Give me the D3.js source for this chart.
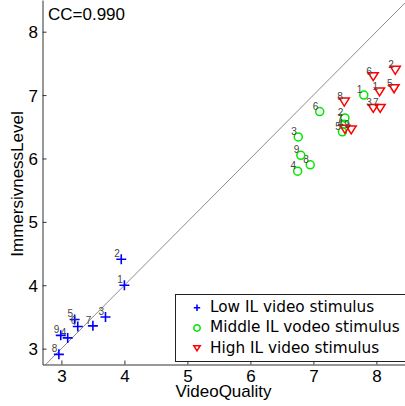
<!DOCTYPE html>
<html>
<head>
<meta charset="utf-8">
<script src="https://cdn.jsdelivr.net/npm/d3@7"></script>
<style>
  body { margin: 0; background: #fff; }
  svg { display: block; }
</style>
</head>
<body>
<div id="container"></div>
<script>
const width = 405;
const height = 406;

// data: [VideoQuality, ImmersivnessLevel], numbered 1..9
const lowIL = [[4.0, 4.0], [3.95, 4.41], [3.7, 3.5], [3.1, 3.17], [3.21, 3.46],
  [3.26, 3.35], [3.5, 3.36], [2.96, 2.91], [2.99, 3.21]];
const middleIL = [[7.8, 7.0], [7.5, 6.64], [6.76, 6.34], [6.75, 5.8], [7.46, 6.42],
  [7.1, 6.74], [7.49, 6.54], [6.95, 5.9], [6.8, 6.05]];
const highIL = [[8.05, 7.05], [8.3, 7.39], [7.95, 6.79], [7.5, 6.46], [8.28, 7.1],
  [7.95, 7.29], [8.06, 6.79], [7.49, 6.89], [7.6, 6.45]];
const legendLabels = ['Low IL video stimulus', 'Middle IL vodeo stimulus', 'High IL video stimulus'];
const xTicks = [3, 4, 5, 6, 7, 8];
const yTicks = [3, 4, 5, 6, 7, 8];
const ccText = 'CC=0.990';

const x = d3.scaleLinear().domain([2.7, 8.5]).range([42.5, 407.9]);
const y = d3.scaleLinear().domain([2.75, 8.5]).range([364.5, 0]);

const svg = d3.select('#container')
  .append('svg')
  .attr('width', width)
  .attr('height', height)
  .attr('font-family', '"Liberation Sans", Arial, sans-serif');

svg.append('clipPath').attr('id', 'plot-clip')
  .append('rect')
  .attr('x', x.range()[0]).attr('y', 0)
  .attr('width', width - x.range()[0]).attr('height', y.range()[0]);

// y = x reference line
svg.append('line')
  .attr('clip-path', 'url(#plot-clip)')
  .attr('x1', x(2.7)).attr('y1', y(2.7))
  .attr('x2', x(8.5)).attr('y2', y(8.5))
  .attr('stroke', '#8c8c8c')
  .attr('stroke-width', 1);

// axes (ticks point inward)
svg.append('g')
  .attr('transform', `translate(0,${y.range()[0]})`)
  .call(d3.axisBottom(x).tickValues(xTicks).tickFormat(d3.format('d'))
    .tickSize(-4).tickSizeOuter(0).tickPadding(0))
  .call(g => g.select('.domain').attr('stroke', '#333'))
  .call(g => g.selectAll('.tick line').attr('stroke', '#333'))
  .call(g => g.selectAll('.tick text')
    .attr('font-size', 17)
    .attr('fill', '#000')
    .attr('dy', null)
    .attr('y', 17.5));

svg.append('g')
  .attr('transform', `translate(${x.range()[0]},0)`)
  .call(d3.axisLeft(y).tickValues(yTicks).tickFormat(d3.format('d'))
    .tickSize(-4).tickSizeOuter(0).tickPadding(0))
  .call(g => g.select('.domain').attr('stroke', '#333'))
  .call(g => g.selectAll('.tick line').attr('stroke', '#333'))
  .call(g => g.selectAll('.tick text')
    .attr('font-size', 17)
    .attr('fill', '#000')
    .attr('x', -4.5)
    .attr('dy', '0.36em'));

svg.append('text')
  .attr('x', 223.5).attr('y', 397)
  .attr('text-anchor', 'middle')
  .attr('font-size', 17)
  .text('VideoQuality');

svg.append('text')
  .attr('transform', 'translate(23,184) rotate(-90)')
  .attr('text-anchor', 'middle')
  .attr('font-size', 17)
  .text('ImmersivnessLevel');

svg.append('text')
  .attr('x', 48).attr('y', 19.5)
  .attr('font-size', 17)
  .text(ccText);

// marker shapes
const plusPath = s => `M${-s},0H${s}M0,${-s}V${s}`;
const triPath = s => `M${-s},${-s * 0.8}H${s}L0,${s * 0.8}Z`;

function drawMarker(g, kind, size) {
  if (kind === 'plus') {
    g.append('path').attr('d', plusPath(size))
      .attr('stroke', '#0000ff').attr('stroke-width', 1.6).attr('fill', 'none');
  } else if (kind === 'circle') {
    g.append('circle').attr('r', size)
      .attr('stroke', '#00e600').attr('stroke-width', 1.5).attr('fill', 'none');
  } else {
    g.append('path').attr('d', triPath(size))
      .attr('stroke', '#ff0000').attr('stroke-width', 1.5).attr('fill', 'none')
      .attr('stroke-linejoin', 'miter');
  }
}

const groups = [
  { data: lowIL, kind: 'plus', size: 5 },
  { data: middleIL, kind: 'circle', size: 4 },
  { data: highIL, kind: 'tri', size: 5 }
];

groups.forEach(grp => {
  const pts = svg.append('g')
    .selectAll('g')
    .data(grp.data)
    .join('g')
    .attr('transform', d => `translate(${x(d[0])},${y(d[1])})`);
  pts.each(function () { drawMarker(d3.select(this), grp.kind, grp.size); });
  pts.append('text')
    .attr('x', -1.5).attr('y', -2)
    .attr('text-anchor', 'end')
    .attr('font-size', 10)
    .attr('fill', '#444')
    .text((d, i) => i + 1);
});

// legend
const legend = svg.append('g').attr('font-family', '"DejaVu Sans", sans-serif');
legend.append('rect')
  .attr('x', 175.5).attr('y', 294.5)
  .attr('width', 240).attr('height', 67)
  .attr('fill', '#fff')
  .attr('stroke', '#222');

const legendKinds = ['plus', 'circle', 'tri'];
const legendRows = legend.selectAll('.row')
  .data(legendLabels)
  .join('g')
  .attr('class', 'row')
  .attr('transform', (d, i) => `translate(197,${307.7 + i * 20.3})`);
legendRows.each(function (d, i) { drawMarker(d3.select(this), legendKinds[i], 3.2); });
legendRows.append('text')
  .attr('x', 13).attr('y', 4.3)
  .attr('font-size', 15.3)
  .attr('fill', '#000')
  .text(d => d);
</script>
</body>
</html>
